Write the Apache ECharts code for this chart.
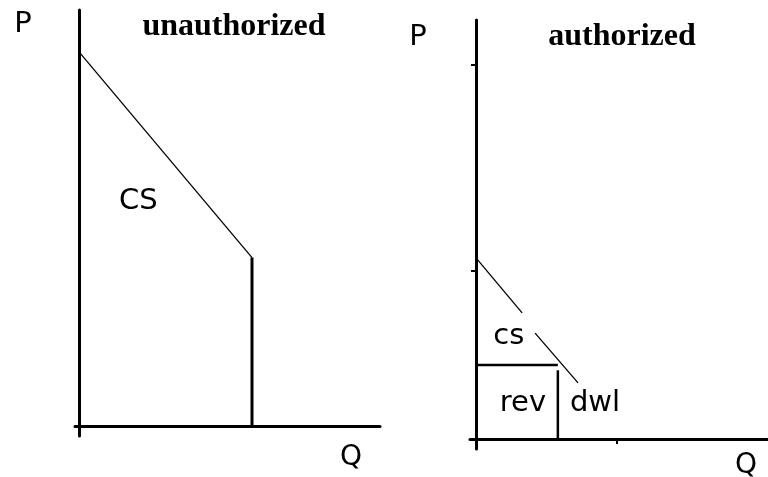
<!DOCTYPE html>
<html>
<head>
<meta charset="utf-8">
<script src="https://cdn.jsdelivr.net/npm/echarts@6/dist/echarts.min.js"></script>
<style>
  html, body { margin: 0; padding: 0; background: #fff; }
  #chart { width: 768px; height: 477px; }
</style>
</head>
<body>
<div id="chart"></div>
<script>
// left panel: unauthorized
const unauthDemand = [[0, 100], [60, 45]];
const unauthQuantity = [[60, 45], [60, 0]];
const unauthLabels = [{ name: "CS", value: [20.6, 59.9] }];

// right panel: authorized
const authDemandUpper = [[0, 48.4], [16, 33.7]];
const authDemandLower = [[20.5, 28.3], [35.4, 15]];
const authPrice = [[0, 19.8], [28.4, 19.8]];
const authQuantity = [[28.4, 18.4], [28.4, 0]];
const authPriceTicks = [100, 45];
const authQuantityTicks = [49];
const authLabels = [
  { name: "cs", value: [11.4, 27.5] },
  { name: "rev", value: [16.3, 9.6] },
  { name: "dwl", value: [41.3, 9.6] }
];

const panelTitles = ["unauthorized", "authorized"];
const priceName = "P";
const quantityName = "Q";

const black = "#000";
const sansFont = "DejaVu Sans";

function axis(gridIndex, min, max, ticks) {
  return {
    type: "value",
    gridIndex: gridIndex,
    min: min,
    max: max,
    axisLine: { show: true, onZero: true, lineStyle: { color: black, width: 3 } },
    axisTick: {
      show: ticks.length > 0,
      customValues: ticks,
      length: 5,
      lineStyle: { color: black, width: 2 }
    },
    axisLabel: { show: false },
    splitLine: { show: false }
  };
}

function segment(data, gridIndex, width) {
  return {
    type: "line",
    xAxisIndex: gridIndex,
    yAxisIndex: gridIndex,
    data: data,
    symbol: "none",
    silent: true,
    lineStyle: { color: black, width: width }
  };
}

function labels(data, gridIndex) {
  return {
    type: "scatter",
    xAxisIndex: gridIndex,
    yAxisIndex: gridIndex,
    data: data,
    symbolSize: 0,
    silent: true,
    itemStyle: { opacity: 1 },
    label: {
      show: true,
      position: "inside",
      formatter: "{b}",
      fontFamily: sansFont,
      fontSize: 29,
      color: black,
      opacity: 1
    }
  };
}

function text(str, x, y, font, size, weight) {
  return {
    type: "text",
    x: x,
    y: y,
    style: {
      text: str,
      fontFamily: font,
      fontSize: size,
      fontWeight: weight || "normal",
      fill: black,
      align: "center",
      verticalAlign: "middle"
    }
  };
}

const myChart = echarts.init(document.getElementById("chart"));
myChart.setOption({
  animation: false,
  backgroundColor: "#fff",
  grid: [
    { left: 75, width: 305, top: 10, height: 426 },
    { left: 470, width: 298, top: 20, height: 429 }
  ],
  xAxis: [
    axis(0, -1.4, 104.4, []),
    axis(1, -2.08, 101.3, authQuantityTicks)
  ],
  yAxis: [
    axis(0, -2.7, 111.2, []),
    axis(1, -2.67, 112.0, authPriceTicks)
  ],
  graphic: [
    text(priceName, 23, 24, sansFont, 29),
    text(priceName, 418, 37, sansFont, 29),
    text(quantityName, 351, 458, sansFont, 28),
    text(quantityName, 746, 466, sansFont, 28),
    text(panelTitles[0], 234, 27, "Liberation Serif", 32, "bold"),
    text(panelTitles[1], 622, 37, "Liberation Serif", 32, "bold")
  ],
  series: [
    segment(unauthDemand, 0, 1.3),
    segment(unauthQuantity, 0, 3),
    labels(unauthLabels, 0),
    segment(authDemandUpper, 1, 1.3),
    segment(authDemandLower, 1, 1.3),
    segment(authPrice, 1, 2.5),
    segment(authQuantity, 1, 2.5),
    labels(authLabels, 1)
  ]
});
</script>
</body>
</html>
